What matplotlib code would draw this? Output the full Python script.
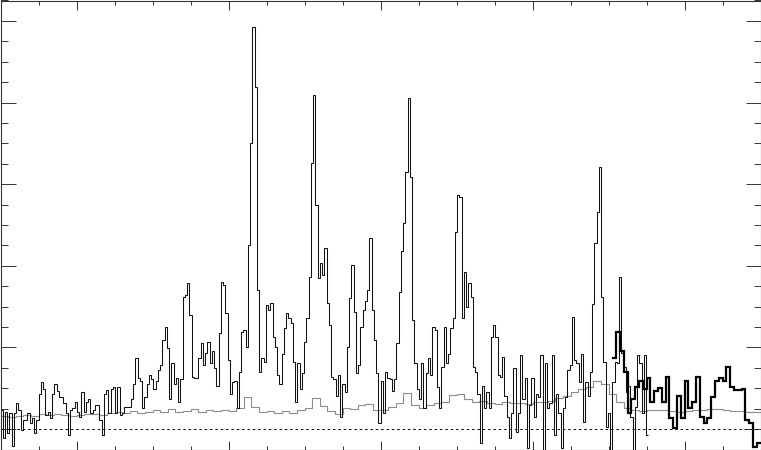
import matplotlib
matplotlib.use('Agg')

import numpy as np
from matplotlib import pyplot as plt
from matplotlib.ticker import MultipleLocator, FixedLocator

# observed spectrum, fine bins (counts)
main_start, main_stop = 0.0, 17.05
main_counts = [
    19, -9, 17, -4, 16, -17, 16, 26, 19, -1,
    9, 9, 16, 6, 11, -4, 9, 34, 46, 39,
    14, 17, 11, 34, 44, 37, 31, 31, 26, 16,
    -6, 19, 21, 27, 17, 12, 36, 17, 27, 29,
    16, 19, 24, 24, 9, -6, 34, 38, 16, 39,
    41, 16, 41, 14,
    16, 22, 22, 22, 29,
    44, 70, 50, 47, 21, 31, 44, 53, 49, 39,
    47, 58, 63, 87, 100, 79, 29, 65, 44, 50,
    27, 49, 129, 131, 143, 112, 51, 50, 50, 70,
    84, 63, 75, 85, 65, 77, 60, 42, 94, 144,
    141, 114, 68, 34, 46, 47, 21, 56, 95, 97,
    80, 180, 280, 394, 335, 136, 56,
    70, 66, 122, 117, 124, 90, 80, 53, 44, 74,
    99, 114, 109, 104, 66, 27, 65, 39, 55, 85,
    109, 149, 261, 327, 220, 148, 163, 151, 177, 124,
    102, 51, 49, 32, 53, 12, 44, 36, 80, 128,
    161, 115, 55, 63, 100, 117, 126, 136, 187, 117,
    87, 55, 6, 47, 16, 56, 50, 49, 37, 49,
    84, 134,
    175, 202, 252, 324, 247, 107, 65, 39, 29, 65,
    21, 55, 70, 53, 100, 97, 41, 21, 61, 100,
    65, 74, 99, 109, 193, 229, 227, 109, 154, 120,
    143, 129, 61, 56, 34, -14, 42, 21, 36, 21,
    90, 102, 90, 53, 51, 71, 32, 12, -9, 16,
    60, -3, 16, 73, 29,
    50, -19, 24, 50, 12, 34, 31, 73, -21, 65,
    21, 26, 73, -6, 34, 16, -19, 21, 31, 58,
    63, 110, 68, 65, 46, 74, 7, 46, 32, 56,
    123, 182, 213, 257, 129, 66, 2, 16, -21, 46,
    66, 65, 149, 75, 61, 36, 42, 12, -21, 22,
    73, 65, 16, 73, -6,
]

# coarse rebinned spectrum at the red end
coarse_start, coarse_stop = 16.1, 20.0
coarse_counts = [
    70, 95, 77, 56, 16, 29, 41, 47, 39, 50,
    27, 37, 40, 27, 51, 11, 1, 32, 11, 47,
    21, 27, 51, 12, 6, 11, 31, 47, 50, 47,
    61, 41, 38, 38, 39, 9, 6, -18, -14,
]

# noise / error level
err_start, err_stop = 0.0, 20.0
err_counts = [
    13, 12, 13, 14, 13, 15, 14, 15, 14, 13,
    14, 15, 15, 14, 16, 17, 16, 18, 16, 17,
    19, 17, 20, 17, 18, 20, 17, 19, 18, 19,
    18, 21, 31, 22, 17, 18, 16, 18, 16, 19,
    21, 30, 23, 18, 15, 21, 20, 24, 25, 19,
    19, 22, 26, 35, 24, 21, 24, 26, 27, 33,
    34, 29, 27, 28, 26, 25, 27, 26, 26, 25,
    27, 27, 28, 30, 32, 36, 39, 41, 47, 44,
    34, 27, 21, 19, 18, 19, 19, 19, 18, 17,
    18, 19, 19, 20, 20, 19, 18, 18, 17, 17,
]

fig = plt.figure(figsize=(7.61, 4.5), dpi=100)
ax = fig.add_axes([0.5 / 761, 0.5 / 450, 760 / 761, 449 / 450])

edges = np.linspace(err_start, err_stop, len(err_counts) + 1)
ax.stairs(err_counts, edges, baseline=None, color='#8c8c8c', lw=0.8)

edges = np.linspace(main_start, main_stop, len(main_counts) + 1)
ax.stairs(main_counts, edges, baseline=None, color='#111111', lw=0.75)

edges = np.linspace(coarse_start, coarse_stop, len(coarse_counts) + 1)
ax.stairs(coarse_counts, edges, baseline=None, color='black', lw=1.6)

ax.axhline(0, color='black', lw=0.7, linestyle=(0, (2.5, 3)))

ax.set_xlim(0, 20)
ax.set_ylim(-20, 420)

ax.xaxis.set_major_locator(FixedLocator([2, 6, 10, 14, 18]))
ax.xaxis.set_minor_locator(MultipleLocator(1))
ax.yaxis.set_major_locator(MultipleLocator(80))
ax.yaxis.set_minor_locator(MultipleLocator(20))

ax.tick_params(which='both', direction='in', top=True, right=True,
               labelbottom=False, labelleft=False, width=0.7, color='#333333')
ax.tick_params(axis='x', which='major', length=6.5)
ax.tick_params(axis='x', which='minor', length=3)
ax.tick_params(axis='y', which='major', length=10.5)
ax.tick_params(axis='y', which='minor', length=5)

for s in ax.spines.values():
    s.set_linewidth(0.8)
    s.set_color('#333333')

plt.savefig('out.png', dpi=100)
plt.close()
